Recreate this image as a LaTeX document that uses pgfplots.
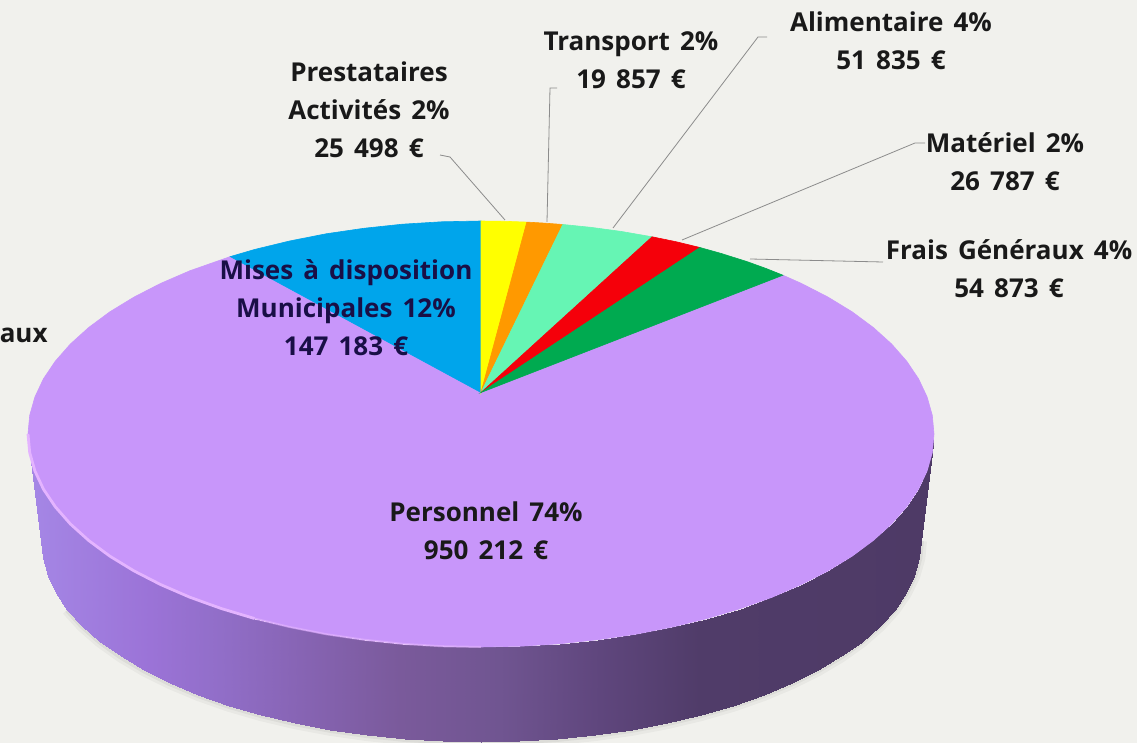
\documentclass[border=0pt]{standalone}
\usepackage{fontspec}
\setmainfont{Open Sans}[WordSpace=1.5]
\usepackage{pgfplots}
\usepackage{pgfplotstable}
\pgfplotsset{compat=1.18}

\definecolor{bgc}{RGB}{241,241,237}
\definecolor{purp}{RGB}{200,150,250}
\definecolor{blu}{RGB}{0,165,235}
\definecolor{yel}{RGB}{255,255,0}
\definecolor{ora}{RGB}{255,153,0}
\definecolor{mint}{RGB}{102,245,180}
\definecolor{rd}{RGB}{245,0,10}
\definecolor{grn}{RGB}{0,170,80}
\definecolor{lead}{RGB}{140,140,140}
\definecolor{rim}{RGB}{228,180,255}
\tikzset{lab/.style={align=center, text=black!90, font=\fontsize{13}{19}\selectfont\bfseries}}

% side wall: upper rim (37 rows), then lower rim (37 rows), pixel coordinates
\pgfplotstableread{
x y
28 434
29.7 452.6
34.9 471.0
43.4 489.1
55.3 506.8
70.4 524.0
88.7 540.5
109.9 556.2
134.0 570.9
160.7 584.6
189.8 597.2
221.2 608.5
254.5 618.5
289.6 627.0
326.1 634.2
363.8 639.7
402.4 643.8
441.5 646.2
481 647
520.5 646.2
559.6 643.8
598.2 639.7
635.9 634.2
672.4 627.0
707.5 618.5
740.8 608.5
772.2 597.2
801.3 584.6
828.0 570.9
852.1 556.2
873.3 540.5
891.6 524.0
906.7 506.8
918.6 489.1
927.1 471.0
932.3 452.6
934 434
41 541
42.7 558.5
47.7 575.9
56.0 593.0
67.5 609.7
82.2 625.9
100.0 641.5
120.6 656.3
144.0 670.2
169.9 683.1
198.2 695.0
228.6 705.7
261.0 715.1
295.1 723.2
330.5 729.9
367.1 735.1
404.6 738.9
442.6 741.2
481 742
519.4 741.2
557.4 738.9
594.9 735.1
631.5 729.9
666.9 723.2
701.0 715.1
733.4 705.7
763.8 695.0
792.1 683.1
818.0 670.2
841.4 656.3
862.0 641.5
879.8 625.9
894.5 609.7
906.0 593.0
914.3 575.9
919.3 558.5
921 541
}\sidewall

\begin{document}
\begin{tikzpicture}
\path[use as bounding box] (0,0) rectangle (568.5pt,371.5pt);
\begin{axis}[
  at={(0,0)}, anchor=south west,
  scale only axis, width=568.5pt, height=371.5pt,
  xmin=0, xmax=1137, ymin=0, ymax=743, y dir=reverse,
  axis lines=none, ticks=none,
  colormap={side}{rgb255(28)=(165,135,230) rgb255(150)=(155,115,215) rgb255(220)=(145,110,200) rgb255(300)=(135,100,180) rgb255(400)=(122,90,155) rgb255(500)=(112,85,145) rgb255(600)=(95,70,125) rgb255(700)=(80,60,105) rgb255(934)=(78,58,102)},
  point meta min=28, point meta max=934,
]
\addplot[fill=bgc, draw=none] coordinates {(0,0) (1137,0) (1137,743) (0,743)} --cycle;

% soft shadow under the disc
\addplot[draw=black, opacity=0.035, line width=6pt, skip coords between index={0}{41}] table {\sidewall};
\addplot[draw=black, opacity=0.05, line width=3pt, skip coords between index={0}{41}] table {\sidewall};

% side wall
\addplot[surf, shader=interp, mesh/rows=2, mesh/ordering=x varies, point meta=x] table {\sidewall};

% top of the pie
\addplot[fill=purp, draw=purp, line width=0.3pt] coordinates {
(481,392.5) (782.9,275.2) (801.3,283.4) (828.0,297.1) (852.1,311.8) (873.3,327.5) (891.6,344.0) (906.7,361.2)
(918.6,378.9) (927.1,397.0) (932.3,415.4) (934,434) (932.3,452.6) (927.1,471.0) (918.6,489.1) (906.7,506.8)
(891.6,524.0) (873.3,540.5) (852.1,556.2) (828.0,570.9) (801.3,584.6) (772.2,597.2) (740.8,608.5) (707.5,618.5)
(672.4,627.0) (635.9,634.2) (598.2,639.7) (559.6,643.8) (520.5,646.2) (481,647) (441.5,646.2) (402.4,643.8)
(363.8,639.7) (326.1,634.2) (289.6,627.0) (254.5,618.5) (221.2,608.5) (189.8,597.2) (160.7,584.6) (134.0,570.9)
(109.9,556.2) (88.7,540.5) (70.4,524.0) (55.3,506.8) (43.4,489.1) (34.9,471.0) (29.7,452.6) (28,434)
(29.7,415.4) (34.9,397.0) (43.4,378.9) (55.3,361.2) (70.4,344.0) (88.7,327.5) (109.9,311.8) (134.0,297.1)
(160.7,283.4) (189.8,270.8) (230.3,256.6)} --cycle;
\addplot[fill=blu, draw=blu, line width=0.3pt] coordinates {
(481,392.5) (230.3,256.6) (254.5,249.5) (289.6,241.0) (326.1,233.8) (363.8,228.3) (402.4,224.2) (441.5,221.8) (481,221)} --cycle;
\addplot[fill=yel, draw=yel, line width=0.3pt] coordinates {
(481,392.5) (481,221) (504.7,221.3) (526.8,222.1)} --cycle;
\addplot[fill=ora, draw=ora, line width=0.3pt] coordinates {
(481,392.5) (526.8,222.1) (544.0,223.1) (562.8,224.5)} --cycle;
\addplot[fill=mint, draw=mint, line width=0.3pt] coordinates {
(481,392.5) (562.8,224.5) (590.6,227.3) (621.0,231.4) (652.1,236.8)} --cycle;
\addplot[fill=rd, draw=rd, line width=0.3pt] coordinates {
(481,392.5) (652.1,236.8) (676.0,241.7) (699.9,247.5)} --cycle;
\addplot[fill=grn, draw=grn, line width=0.3pt] coordinates {
(481,392.5) (699.9,247.5) (721.0,253.4) (747.3,261.7) (766.1,268.5) (782.9,275.2)} --cycle;

% bright bevel on the left rim
\addplot[draw=rim, line width=1.4pt, skip coords between index={13}{74}] table {\sidewall};
\addplot[draw=rim, opacity=0.6, line width=1pt, skip coords between index={0}{12}, skip coords between index={19}{74}] table {\sidewall};

% leader lines
\addplot[draw=lead, line width=0.4pt] coordinates {(440,155) (450,157) (505,220)};
\addplot[draw=lead, line width=0.4pt] coordinates {(557,88) (550,88) (547,222)};
\addplot[draw=lead, line width=0.4pt] coordinates {(767,37) (758,37) (613,228)};
\addplot[draw=lead, line width=0.4pt] coordinates {(682,240) (915,143) (925,143)};
\addplot[draw=lead, line width=0.4pt] coordinates {(750,259) (883,262)};

\node[lab, anchor=east, inner sep=0pt] at (axis cs:48,335) {aux};
\node[lab] at (axis cs:369,110) {Prestataires\\Activités 2\%\\25 498 €};
\node[lab] at (axis cs:631,60) {Transport 2\%\\19 857 €};
\node[lab] at (axis cs:891,41) {Alimentaire 4\%\\51 835 €};
\node[lab] at (axis cs:1005,162) {Matériel 2\%\\26 787 €};
\node[lab] at (axis cs:1009,269) {Frais Généraux 4\%\\54 873 €};
\node[lab, text={rgb,255:red,25;green,15;blue,70}] at (axis cs:346,308) {Mises à disposition\\Municipales 12\%\\147 183 €};
\node[lab] at (axis cs:486,531) {Personnel 74\%\\950 212 €};
\end{axis}
\end{tikzpicture}
\end{document}
